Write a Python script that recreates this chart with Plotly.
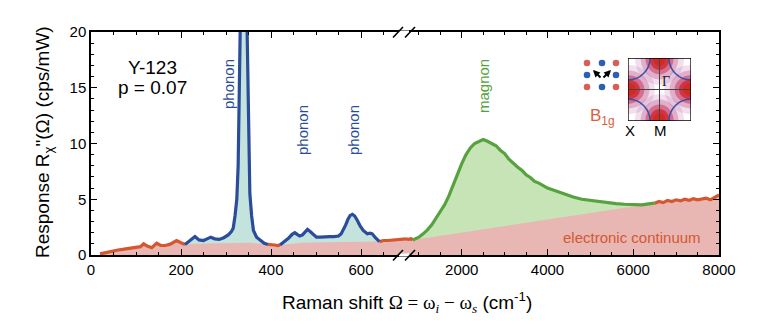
import plotly.graph_objects as go

# ---- spectra (Raman shift in cm^-1, response in cps/mW) ----
# electronic continuum, low-energy part
red1_x = [20, 30, 40, 50, 60, 70, 80, 90, 100, 110, 117, 125, 135, 146, 155, 165, 175, 183, 190, 200, 209]
red1_y = [0.1, 0.2, 0.3, 0.4, 0.45, 0.5, 0.55, 0.6, 0.65, 0.75, 1.0, 0.8, 0.65, 1.05, 0.85, 0.85, 0.95, 1.15, 1.3, 1.1, 0.95]

# first phonon window (strong mode near 340 cm^-1)
ph1_x = [209, 220, 231, 240, 250, 258, 266, 275, 285, 295, 305, 312, 316, 320, 324, 327, 329, 332,
         336, 340, 344, 347, 350, 353, 357, 361, 368, 376, 385, 393]
ph1_y = [0.95, 1.3, 1.65, 1.35, 1.3, 1.45, 1.6, 1.45, 1.4, 1.55, 1.8, 2.1, 2.4, 3.5, 5.0, 8.0, 13.0, 22.0,
         32.0, 36.0, 30.0, 20.0, 10.0, 5.5, 3.5, 2.2, 1.6, 1.3, 1.05, 0.95]

red2_x = [393, 400, 408, 415, 420]
red2_y = [0.95, 0.95, 0.9, 0.85, 0.9]

# second phonon window (modes near 450, 480 and 580 cm^-1)
ph2_x = [420, 430, 440, 447, 453, 458, 464, 470, 476, 481, 487, 494, 501, 510, 520, 530, 540, 550, 556,
         561, 566, 571, 576, 581, 586, 592, 598, 605, 614, 620, 625, 632, 641]
ph2_y = [0.9, 1.2, 1.55, 1.85, 2.0, 1.85, 1.7, 1.8, 2.1, 2.3, 2.1, 1.8, 1.6, 1.6, 1.65, 1.65, 1.65, 1.7, 1.9,
         2.25, 2.7, 3.2, 3.55, 3.65, 3.5, 3.1, 2.6, 2.2, 1.9, 1.95, 1.9, 1.55, 1.2]

red3_x = [641, 650, 660, 670, 680, 690, 700]
red3_y = [1.2, 1.3, 1.3, 1.35, 1.4, 1.4, 1.45]

# high-energy part (second axis segment)
red4_x = [700, 760, 820, 860]
red4_y = [1.45, 1.4, 1.45, 1.35]

mag_x = [860, 1000, 1100, 1200, 1300, 1400, 1500, 1600, 1700, 1800, 1900, 2000, 2100, 2200, 2300, 2400,
         2500, 2600, 2700, 2800, 2900, 3000, 3100, 3200, 3300, 3400, 3500, 3600, 3700, 3800, 3900, 4000,
         4200, 4400, 4600, 4800, 5000, 5200, 5400, 5600, 5800, 6000, 6200, 6400, 6500]
mag_y = [1.35, 1.6, 1.9, 2.25, 2.7, 3.3, 3.9, 4.5, 5.3, 6.3, 7.3, 8.2, 9.0, 9.6, 10.0, 10.2,
         10.35, 10.2, 10.0, 9.8, 9.4, 9.1, 8.6, 8.2, 7.9, 7.6, 7.2, 6.95, 6.6, 6.45, 6.2, 6.0,
         5.75, 5.45, 5.2, 5.0, 4.9, 4.8, 4.65, 4.6, 4.55, 4.5, 4.5, 4.6, 4.65]

red5_x = [6500, 6600, 6700, 6800, 6900, 7000, 7100, 7200, 7300, 7400, 7500, 7600, 7700, 7800, 7900, 8000]
red5_y = [4.65, 4.8, 4.7, 4.9, 4.8, 4.95, 4.85, 5.0, 4.9, 5.05, 4.95, 5.0, 5.1, 4.95, 5.15, 5.4]

# electronic continuum baseline (upper edge of the shaded background)
cont1_x = red1_x + [230, 270, 310, 350, 380] + red2_x + [440, 470, 520, 580, 620] + red3_x
cont1_y = red1_y + [1.0, 1.05, 1.1, 1.1, 1.0] + red2_y + [1.0, 1.1, 1.15, 1.2, 1.2] + red3_y
cont2_x = red4_x + [6500] + red5_x[1:]
cont2_y = red4_y + [4.65] + red5_y[1:]

x_ticks_low = [0, 200, 400, 600]
x_ticks_high = [2000, 4000, 6000, 8000]
y_ticks = [0, 5, 10, 15, 20]

RED, PINK = "#d4572f", "#e8b7b4"
BLUE, TEAL = "#2b4c9b", "#c3e3dc"
GREEN, LGREEN = "#55a23e", "#c6e4b6"
SANS = "Liberation Sans, Arial, sans-serif"
SERIF = "Liberation Serif, Times New Roman, serif"

fig = go.Figure()

def fill(x, y, color, xa, ya):
    fig.add_trace(go.Scatter(x=x, y=y, xaxis=xa, yaxis=ya, mode="lines", fill="tozeroy",
                             fillcolor=color, line=dict(width=0), hoverinfo="skip", showlegend=False))

def line(x, y, color, xa, ya):
    fig.add_trace(go.Scatter(x=x, y=y, xaxis=xa, yaxis=ya, mode="lines",
                             line=dict(color=color, width=3.2), showlegend=False))

# shaded areas
fill(ph1_x, ph1_y, TEAL, "x", "y")
fill(ph2_x, ph2_y, TEAL, "x", "y")
fill(mag_x, mag_y, LGREEN, "x2", "y2")
fill(cont1_x, cont1_y, PINK, "x", "y")
fill(cont2_x, cont2_y, PINK, "x2", "y2")

# spectra
for xs, ys in [(red1_x, red1_y), (red2_x, red2_y), (red3_x, red3_y)]:
    line(xs, ys, RED, "x", "y")
for xs, ys in [(red4_x, red4_y), (red5_x, red5_y)]:
    line(xs, ys, RED, "x2", "y2")
line(ph1_x, ph1_y, BLUE, "x", "y")
line(ph2_x, ph2_y, BLUE, "x", "y")
line(mag_x, mag_y, GREEN, "x2", "y2")

# invisible trace so the inset subplot exists
fig.add_trace(go.Scatter(x=[0], y=[0], xaxis="x3", yaxis="y3", mode="markers",
                         marker=dict(opacity=0), hoverinfo="skip", showlegend=False))

L, T, W, H = 91, 32, 628, 223
FW, FH = 782, 331
split = 315 / W

def px(x):
    return (x - L) / W

def py(y):
    return (T + H - y) / H

axis_common = dict(showline=True, linecolor="black", linewidth=1.5, ticks="inside", ticklen=6,
                   tickwidth=1.3, tickcolor="black", showgrid=False, zeroline=False,
                   tickfont=dict(family=SANS, size=15, color="black"))

fig.update_layout(
    width=FW, height=FH, margin=dict(l=L, r=FW - L - W, t=T, b=FH - T - H),
    paper_bgcolor="white", plot_bgcolor="white", showlegend=False,
    xaxis=dict(domain=[0, split], range=[0, 700], anchor="y", tickvals=x_ticks_low, mirror="ticks",
               minor=dict(dtick=50, tick0=0, ticks="inside", ticklen=3, tickwidth=1.2, tickcolor="black"),
               **axis_common),
    xaxis2=dict(domain=[split, 1], range=[700, 8000], anchor="y2", tickvals=x_ticks_high, mirror="ticks",
                minor=dict(dtick=500, tick0=0, ticks="inside", ticklen=3, tickwidth=1.2, tickcolor="black"),
                **axis_common),
    yaxis=dict(domain=[0, 1], range=[0, 20], anchor="x", tickvals=y_ticks,
               minor=dict(dtick=1, tick0=0, ticks="inside", ticklen=3, tickwidth=1.2, tickcolor="black"),
               **axis_common),
    yaxis2=dict(domain=[0, 1], range=[0, 20], anchor="x2", side="right", matches="y",
                tickvals=y_ticks, showticklabels=False,
                minor=dict(dtick=1, tick0=0, ticks="inside", ticklen=3, tickwidth=1.2, tickcolor="black"),
                **axis_common),
    xaxis3=dict(domain=[px(628), px(691)], range=[-1, 1], anchor="y3", visible=False, fixedrange=True),
    yaxis3=dict(domain=[py(121), py(58)], range=[-1, 1], anchor="x3", visible=False, fixedrange=True),
)

shapes = []

# axis break marks
for yc in (T, T + H):
    shapes.append(dict(type="rect", xref="paper", yref="paper", x0=px(399), x1=px(409),
                       y0=py(yc + 1.5), y1=py(yc - 1.5), fillcolor="white", line=dict(width=0)))
    for x0 in (393, 405):
        shapes.append(dict(type="line", xref="paper", yref="paper", x0=px(x0), y0=py(yc + 5.5),
                           x1=px(x0 + 10), y1=py(yc - 5), line=dict(color="black", width=1.6)))

# ---- inset: Brillouin zone with B1g-weighted regions (coordinates in zone units, -1..1) ----
K = 0.5523  # cubic Bezier constant for a quarter circle


def fmt(p):
    return f"{p[0]:.4f},{p[1]:.4f}"


def half_disc(cx, cy, rt, rn, nx, ny):
    """Half ellipse centred on an edge midpoint, bulging inward along (nx, ny)."""
    tx, ty = -ny, nx  # tangent along the edge
    p0 = (cx - tx * rt, cy - ty * rt)
    pm = (cx + nx * rn, cy + ny * rn)
    p1 = (cx + tx * rt, cy + ty * rt)
    c1 = (p0[0] + nx * K * rn, p0[1] + ny * K * rn)
    c2 = (pm[0] - tx * K * rt, pm[1] - ty * K * rt)
    c3 = (pm[0] + tx * K * rt, pm[1] + ty * K * rt)
    c4 = (p1[0] + nx * K * rn, p1[1] + ny * K * rn)
    return f"M {fmt(p0)} C {fmt(c1)} {fmt(c2)} {fmt(pm)} C {fmt(c3)} {fmt(c4)} {fmt(p1)} Z"


def quarter_arc(cx, cy, r, sx, sy):
    """Quarter circle around a zone corner, running from one edge to the other."""
    a = (cx + sx * r, cy)
    b = (cx, cy + sy * r)
    c1 = (cx + sx * r, cy + sy * K * r)
    c2 = (cx + sx * K * r, cy + sy * r)
    return f"M {fmt(a)} C {fmt(c1)} {fmt(c2)} {fmt(b)}"


blob_layers = [(0.78, 0.85, "rgba(170,55,140,0.16)"), (0.6, 0.68, "rgba(180,40,105,0.26)"),
               (0.45, 0.52, "rgba(195,30,70,0.45)"), (0.32, 0.38, "rgba(205,35,40,0.75)"),
               (0.2, 0.25, "rgba(210,40,30,0.9)")]
for cx, cy, nx, ny in [(0, 1, 0, -1), (0, -1, 0, 1), (1, 0, -1, 0), (-1, 0, 1, 0)]:
    for rt, rn, col in blob_layers:
        shapes.append(dict(type="path", xref="x3", yref="y3", path=half_disc(cx, cy, rt, rn, nx, ny),
                           fillcolor=col, line=dict(width=0)))
for cx, cy in [(-1, 1), (1, 1), (-1, -1), (1, -1)]:
    shapes.append(dict(type="path", xref="x3", yref="y3",
                       path=quarter_arc(cx, cy, 0.7, -cx, -cy),
                       line=dict(color="#3a4fa3", width=1.5)))
shapes.append(dict(type="line", xref="x3", yref="y3", x0=0, x1=0, y0=-1, y1=1,
                   line=dict(color="#444", width=1)))
shapes.append(dict(type="line", xref="x3", yref="y3", x0=-1, x1=1, y0=0, y1=0,
                   line=dict(color="#444", width=1)))
shapes.append(dict(type="rect", xref="x3", yref="y3", x0=-1, x1=1, y0=-1, y1=1,
                   line=dict(color="black", width=1.3)))

# inset: CuO2 lattice sketch
dots = [(587, 63, "#d65f5a"), (602, 63, "#2f5fb5"), (616, 63, "#d65f5a"),
        (587, 75, "#2f5fb5"), (616, 75, "#2f5fb5"),
        (587, 87, "#d65f5a"), (602, 87, "#2f5fb5"), (616, 87, "#d65f5a")]
for dx, dy, col in dots:
    shapes.append(dict(type="circle", xref="paper", yref="paper", x0=px(dx - 3.3), x1=px(dx + 3.3),
                       y0=py(dy + 3.3), y1=py(dy - 3.3), fillcolor=col, line=dict(width=0)))

fig.update_layout(shapes=shapes)

ann = []

def text(x, y, s, size=15, color="black", angle=0, family=SANS, xref="paper", yref="paper"):
    if xref == "paper":
        x, y = px(x), py(y)
    ann.append(dict(x=x, y=y, xref=xref, yref=yref, text=s, showarrow=False, textangle=angle,
                    xanchor="center", yanchor="middle",
                    font=dict(family=family, size=size, color=color)))

text(152, 67, "Y-123", size=19)
text(152, 88, "p = 0.07", size=19)
text(228, 84, "phonon", color=BLUE, angle=-90)
text(302, 130, "phonon", color=BLUE, angle=-90)
text(353, 130, "phonon", color=BLUE, angle=-90)
text(483, 86, "magnon", color=GREEN, angle=-90)
text(632, 237, "electronic continuum", color=RED)
text(602, 117, "B<sub>1g</sub>", size=17, color="#d8613c")
text(630, 130, "X", size=15)
text(660, 130, "M", size=15)
text(0.2, 0.25, "Γ", size=14, color="#222", family=SERIF, xref="x3", yref="y3")

# axis titles
text(407, 302, 'Raman shift <span style="font-family:Liberation Serif">Ω = ω<sub><i>i</i></sub> − '
               'ω<sub><i>s</i></sub></span> (cm<sup>-1</sup>)', size=19)
text(44, 142, 'Response R<sub>χ</sub>"(Ω) (cps/mW)', size=19, angle=-90)

# polarization arrows in the lattice sketch
for hx in (593, 611):
    ann.append(dict(x=px(hx), y=py(70), xref="paper", yref="paper", ax=602 - hx, ay=9,
                    showarrow=True, arrowhead=2, arrowsize=0.7, arrowwidth=2.0, arrowcolor="black",
                    text=""))

fig.update_layout(annotations=ann)

fig.write_html("out.html")
